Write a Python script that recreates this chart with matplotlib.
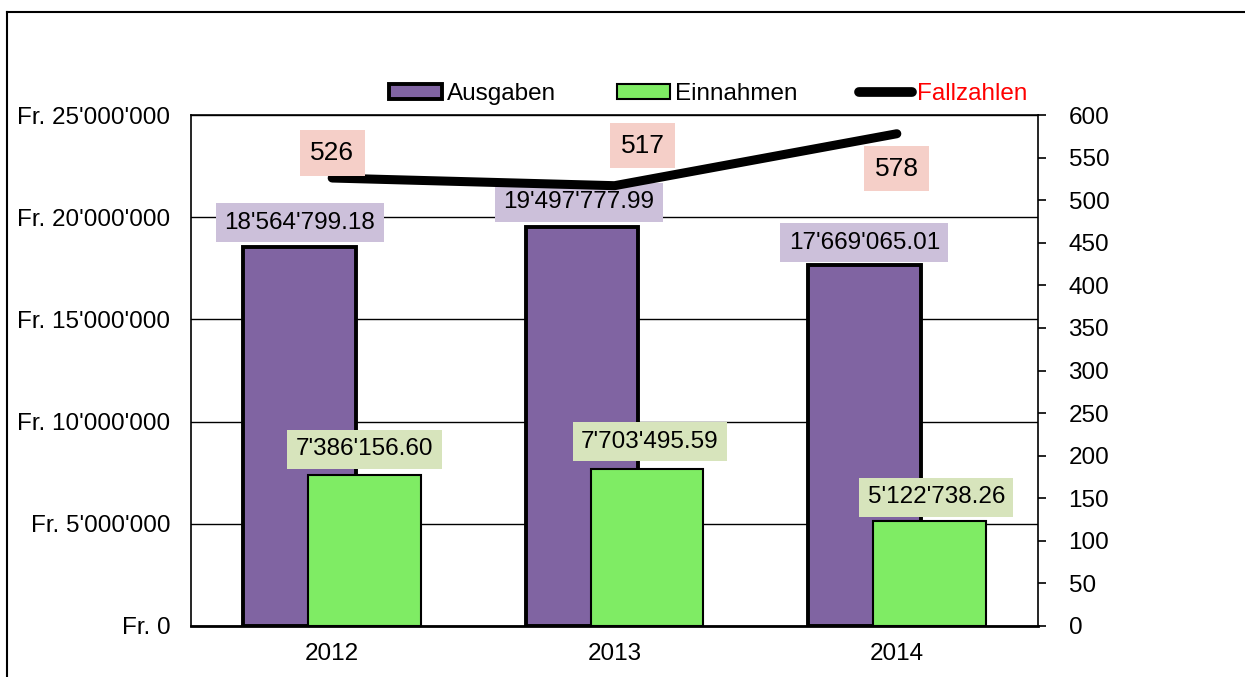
import matplotlib
matplotlib.use("Agg")
import matplotlib.pyplot as plt
from matplotlib.patches import Patch
from matplotlib.lines import Line2D
from matplotlib.ticker import FuncFormatter, MultipleLocator
import numpy as np

# data
years = ["2012", "2013", "2014"]
ausgaben = [18564799.18, 19497777.99, 17669065.01]
einnahmen = [7386156.60, 7703495.59, 5122738.26]
fallzahlen = [526, 517, 578]

plt.rcParams['font.family'] = ['Liberation Sans', 'DejaVu Sans']
plt.rcParams['font.size'] = 17.5


def swiss(v, decimals=0):
    s = f"{v:,.{decimals}f}"
    return s.replace(",", "'")


fig = plt.figure(figsize=(12.45, 6.77), dpi=100)
ax = fig.add_axes([191 / 1245, 1 - 626 / 677, (1038 - 191) / 1245, (626 - 115) / 677])
ax2 = ax.twinx()

x = np.arange(len(years))
off = 0.115
w = 0.4

ax.set_axisbelow(True)
ax.yaxis.grid(True, color='black', lw=1.0)
ax.bar(x - off, ausgaben, w, color='#8064A2', edgecolor='black', lw=2.8, zorder=2)
ax.bar(x + off, einnahmen, w, color='#7FEC64', edgecolor='black', lw=1.5, zorder=3)

ax.set_xlim(-0.5, 2.5)
ax.set_ylim(0, 25000000)
ax.yaxis.set_major_locator(MultipleLocator(5000000))
ax.yaxis.set_major_formatter(FuncFormatter(lambda v, p: "Fr. " + swiss(v)))
ax.set_xticks(x)
ax.set_xticklabels(years)
ax.tick_params(axis='x', length=0, pad=12)
ax.tick_params(axis='y', length=0, pad=15)
for s in ax.spines.values():
    s.set_linewidth(1.2)
ax.spines['bottom'].set_linewidth(2)

ax2.plot(x, fallzahlen, color='black', lw=6.5, solid_capstyle='round', zorder=4)
ax2.set_ylim(0, 600)
ax2.yaxis.set_major_locator(MultipleLocator(50))
ax2.tick_params(axis='y', direction='out', length=6, width=1.2, pad=16)
for s in ax2.spines.values():
    s.set_visible(False)

# labels
a_off = [(0, 24), (-3, 25), (0, 22)]
for xi, v, (dx, dy) in zip(x - off, ausgaben, a_off):
    ax.annotate(swiss(v, 2), (xi, v), xytext=(dx, dy), textcoords='offset pixels',
                ha='center', va='center', fontsize=17.5, zorder=6,
                bbox=dict(boxstyle='square,pad=0.35', fc='#CCC0DA', ec='none'))
e_off = [(0, 26), (3, 27), (7, 24)]
for xi, v, (dx, dy) in zip(x + off, einnahmen, e_off):
    ax.annotate(swiss(v, 2), (xi, v), xytext=(dx, dy), textcoords='offset pixels',
                ha='center', va='center', fontsize=17.5, zorder=6,
                bbox=dict(boxstyle='square,pad=0.35', fc='#D7E4BC', ec='none'))
f_off = [(0, 25), (28, 40), (0, -35)]
for xi, v, (dx, dy) in zip(x, fallzahlen, f_off):
    ax2.annotate(str(v), (xi, v), xytext=(dx, dy), textcoords='offset pixels',
                 ha='center', va='center', fontsize=19, zorder=6,
                 bbox=dict(boxstyle='square,pad=0.4', fc='#F5CFC8', ec='none'))

handles = [Patch(fc='#8064A2', ec='black', lw=2.8),
           Patch(fc='#7FEC64', ec='black', lw=1.5),
           Line2D([], [], color='black', lw=7, solid_capstyle='round')]
leg = fig.legend(handles, ["Ausgaben", "Einnahmen", "Fallzahlen"], ncol=3,
                 loc='center', bbox_to_anchor=(708 / 1245, 1 - 94 / 677),
                 frameon=False, handlelength=2.2, handleheight=0.6,
                 handletextpad=0.2, columnspacing=2.5, fontsize=17.5)
leg.get_texts()[2].set_color('red')

# outer frame
ytop = 1 - 12 / 677
x0 = 7 / 1245
fig.add_artist(Line2D([x0, 1.0], [ytop, ytop], color='black', lw=1.5, transform=fig.transFigure))
fig.add_artist(Line2D([x0, x0], [0.0, ytop], color='black', lw=1.5, transform=fig.transFigure))

fig.savefig("out.png", dpi=100)
